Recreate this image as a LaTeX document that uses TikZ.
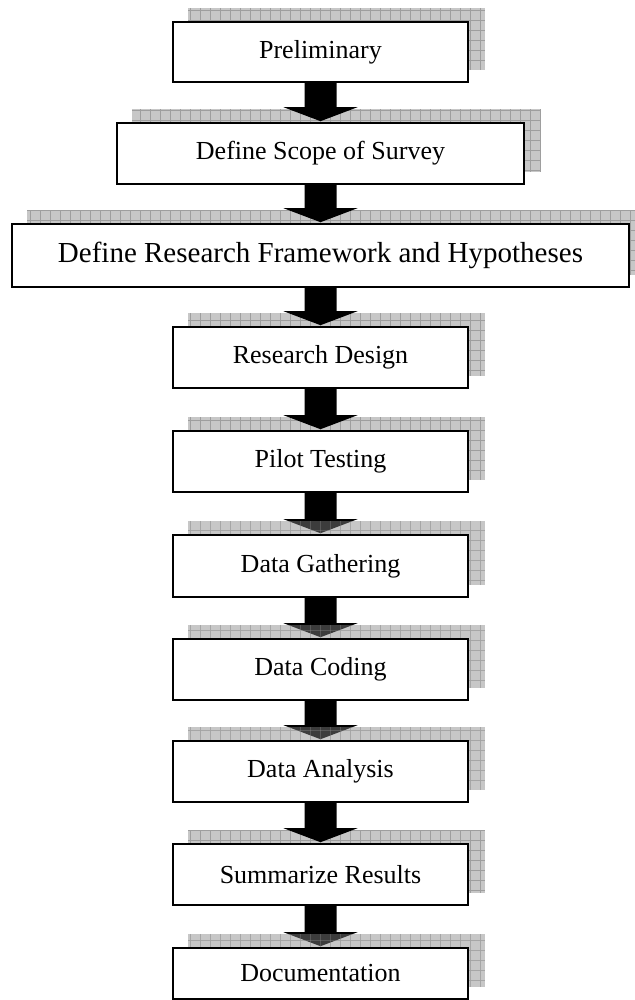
\documentclass[tikz,border=0pt]{standalone}
\usepackage{fontspec}
\setmainfont{Liberation Serif}
\pgfdeclarelayer{bg}
\pgfdeclarelayer{mid}
\pgfdeclarelayer{over}
\pgfsetlayers{bg,mid,over,main}
\tikzset{
  stepbox/.style={draw=black, line width=1.6pt, fill=white, inner sep=0pt,
    font=\fontsize{26}{30}\selectfont},
  widebox/.style={stepbox, font=\fontsize{29}{33}\selectfont},
  shadowfill/.style={fill=black!22},
  gridline/.style={draw=black!38, line width=0.6pt},
  arrowfill/.style={fill=black},
}
\newcommand\shadowrect[2]{%
  \begin{scope}
    \clip ([shift={(16,-13)}]#1.south west) rectangle ([shift={(16,-13)}]#1.north east);
    \fill[shadowfill, fill opacity=#2] (0,0) rectangle (660,1000);
    \foreach \gx in {0,10,...,660} {\draw[gridline, draw opacity=#2] (\gx,0) -- (\gx,1000);}
    \foreach \gy in {0,10,...,1000} {\draw[gridline, draw opacity=#2] (0,\gy) -- (660,\gy);}
  \end{scope}}
\newcommand\blockarrow[2]{%
  \fill[arrowfill] ([xshift=-16pt]#1.south) -- ([xshift=16pt]#1.south)
    -- ([shift={(16,-15)}]#2.north) -- ([shift={(37,-15)}]#2.north)
    -- ([shift={(0,-1)}]#2.north) -- ([shift={(-37,-15)}]#2.north)
    -- ([shift={(-16,-15)}]#2.north) -- cycle;}
\begin{document}
\begin{tikzpicture}[x=1pt,y=-1pt]
\useasboundingbox (0,0) rectangle (634,1000);
\node[stepbox, minimum width=295pt, minimum height=60pt] (b1) at (320.5,52) {Preliminary};
\node[stepbox, minimum width=407pt, minimum height=61pt] (b2) at (320.5,153.5) {Define Scope of Survey};
\node[widebox, minimum width=617pt, minimum height=63pt] (b3) at (320.5,255.5) {Define Research Framework and Hypotheses};
\node[stepbox, minimum width=295pt, minimum height=61pt] (b4) at (320.5,357.5) {Research Design};
\node[stepbox, minimum width=295pt, minimum height=61pt] (b5) at (320.5,461.5) {Pilot Testing};
\node[stepbox, minimum width=295pt, minimum height=62pt] (b6) at (320.5,566) {Data Gathering};
\node[stepbox, minimum width=295pt, minimum height=61pt] (b7) at (320.5,669.5) {Data Coding};
\node[stepbox, minimum width=295pt, minimum height=61pt] (b8) at (320.5,771.5) {Data Analysis};
\node[stepbox, minimum width=295pt, minimum height=61pt] (b9) at (320.5,874.5) {Summarize Results};
\node[stepbox, minimum width=295pt, minimum height=51pt] (b10) at (320.5,973.5) {Documentation};
\begin{pgfonlayer}{bg}
  \foreach \b in {b1,b2,b3,b4,b5,b6,b7,b8,b9,b10} {\shadowrect{\b}{1}}
\end{pgfonlayer}
\begin{pgfonlayer}{mid}
  \blockarrow{b1}{b2}
  \blockarrow{b2}{b3}
  \blockarrow{b3}{b4}
  \blockarrow{b4}{b5}
  \blockarrow{b5}{b6}
  \blockarrow{b6}{b7}
  \blockarrow{b7}{b8}
  \blockarrow{b8}{b9}
  \blockarrow{b9}{b10}
\end{pgfonlayer}
\begin{pgfonlayer}{over}
  \foreach \b in {b6,b7,b8,b10} {\shadowrect{\b}{0.3}}
\end{pgfonlayer}
\end{tikzpicture}
\end{document}
